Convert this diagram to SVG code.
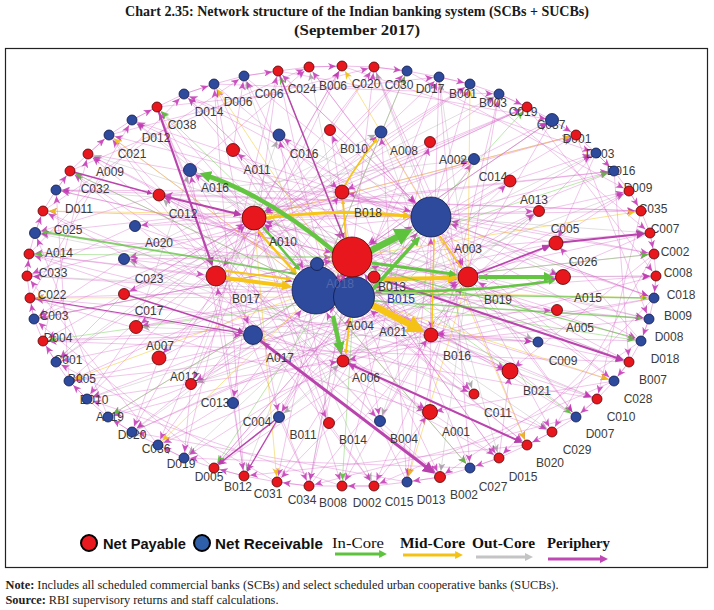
<svg xmlns="http://www.w3.org/2000/svg" width="714" height="610" viewBox="0 0 714 610">
<defs>
<style>
.lb{font-family:"Liberation Sans",Arial,sans-serif;font-size:12px;fill:#3b3b3b;text-anchor:middle}
.r{fill:#e8161d;stroke:#520606;stroke-width:.8}
.b{fill:#2d4a9d;stroke:#121a48;stroke-width:.8}
.ring{fill:none;stroke:#d35cc5;stroke-width:.8;stroke-opacity:.5}
.p,.pL,.pX,.pM{fill:none;stroke:#d35cc5;stroke-width:.7;stroke-opacity:.5}
.p{marker-end:url(#mp)}
.pL{marker-end:url(#mpL)}
.pX{marker-end:url(#mpX)}
.pM{marker-end:url(#mpM)}
.g{fill:none;stroke:#a9a9a9;stroke-width:.6;stroke-opacity:.6;marker-end:url(#mg)}
.gr{fill:none;stroke:#66cc44;stroke-width:.8;stroke-opacity:.55;marker-end:url(#mgr)}
.y{fill:none;stroke:#f2c51c;stroke-width:.8;stroke-opacity:.6;marker-end:url(#my)}
.tG{fill:none;stroke:#63c542;marker-end:url(#tg)}
.tY{fill:none;stroke:#f6c515;marker-end:url(#ty)}
.tP{fill:none;stroke:#b944ae;marker-end:url(#tp)}
.ttl{font-family:"Liberation Serif","Times New Roman",serif;font-weight:bold;font-size:14px;fill:#1a1a1a;text-anchor:middle}
.nt{font-family:"Liberation Serif","Times New Roman",serif;font-size:12px;fill:#222}
.lgs{font-family:"Liberation Sans",Arial,sans-serif;font-weight:bold;font-size:14px;fill:#111}
.lgr{font-family:"Liberation Serif","Times New Roman",serif;font-size:15px;fill:#111}
</style>
<marker id="mp" viewBox="0 0 8 7" refX="14" refY="3.5" markerWidth="8" markerHeight="7" markerUnits="userSpaceOnUse" orient="auto"><path d="M0,0L8,3.5L0,7L2.2,3.5z" fill="#c337b5" fill-opacity=".85"/></marker>
<marker id="mpL" viewBox="0 0 8 7" refX="29" refY="3.5" markerWidth="8" markerHeight="7" markerUnits="userSpaceOnUse" orient="auto"><path d="M0,0L8,3.5L0,7L2.2,3.5z" fill="#c337b5" fill-opacity=".85"/></marker>
<marker id="mpX" viewBox="0 0 8 7" refX="33" refY="3.5" markerWidth="8" markerHeight="7" markerUnits="userSpaceOnUse" orient="auto"><path d="M0,0L8,3.5L0,7L2.2,3.5z" fill="#c337b5" fill-opacity=".85"/></marker>
<marker id="mpM" viewBox="0 0 8 7" refX="20" refY="3.5" markerWidth="8" markerHeight="7" markerUnits="userSpaceOnUse" orient="auto"><path d="M0,0L8,3.5L0,7L2.2,3.5z" fill="#c337b5" fill-opacity=".85"/></marker>
<marker id="mg" viewBox="0 0 8 7" refX="14" refY="3.5" markerWidth="8" markerHeight="7" markerUnits="userSpaceOnUse" orient="auto"><path d="M0,0L8,3.5L0,7L2.2,3.5z" fill="#a0a0a0" fill-opacity=".85"/></marker>
<marker id="mgr" viewBox="0 0 8 7" refX="14" refY="3.5" markerWidth="8" markerHeight="7" markerUnits="userSpaceOnUse" orient="auto"><path d="M0,0L8,3.5L0,7L2.2,3.5z" fill="#58c038" fill-opacity=".9"/></marker>
<marker id="my" viewBox="0 0 8 7" refX="14" refY="3.5" markerWidth="8" markerHeight="7" markerUnits="userSpaceOnUse" orient="auto"><path d="M0,0L8,3.5L0,7L2.2,3.5z" fill="#f0c010" fill-opacity=".9"/></marker>
<marker id="tg" viewBox="0 0 10 10" refX="5" refY="5" markerWidth="2.6" markerHeight="2.6" orient="auto"><path d="M0,0L10,5L0,10z" fill="#5dc33d"/></marker>
<marker id="ty" viewBox="0 0 10 10" refX="5" refY="5" markerWidth="2.6" markerHeight="2.6" orient="auto"><path d="M0,0L10,5L0,10z" fill="#f4c214"/></marker>
<marker id="tp" viewBox="0 0 10 10" refX="5" refY="5" markerWidth="4" markerHeight="4" orient="auto"><path d="M0,0L10,5L0,10z" fill="#b63fab"/></marker>
<marker id="ta" viewBox="0 0 10 10" refX="5" refY="5" markerWidth="2.7" markerHeight="2.7" orient="auto"><path d="M0,0L10,5L0,10z" fill="#c4c4c4"/></marker>
<marker id="lp" viewBox="0 0 10 10" refX="5" refY="5" markerWidth="2.7" markerHeight="2.7" orient="auto"><path d="M0,0L10,5L0,10z" fill="#c048b4"/></marker>
</defs>
<rect x="0" y="0" width="714" height="610" fill="#ffffff"/>
<text class="ttl" x="357" y="16" textLength="464" lengthAdjust="spacingAndGlyphs">Chart 2.35: Network structure of the Indian banking system (SCBs + SUCBs)</text>
<text class="ttl" x="357" y="35" textLength="126" lengthAdjust="spacingAndGlyphs">(September 2017)</text>
<rect x="5.5" y="48.5" width="702" height="519" fill="none" stroke="#222" stroke-width="1.2"/>

<g id="connectors">
<path class="ring" d="M56 190L70 171L88 154L109 135L132 120L157 107L184 94L214 84L244 76L278 71L309 67L342 66L374 67L407 71L439 77L470 84L499 94L527 107L552 120L576 135L596 153L614 171L629 191L641 211L650 233L654 254L656 276L654 298L649 319L641 341L629 362L614 381L597 399L576 417L552 432L527 445L499 458L470 468L440 477L407 482L374 486L342 486L309 486L277 482L244 476L214 468L184 458L158 445L132 432L108 417L87 399L69 381L56 362L43 341L34 319L30 298L27 276L29 254L35 233L43 211Z"/>
<g id="c-outcore">
<path class="g" d="M431 217L56 190"/><path class="g" d="M468 277L88 154"/><path class="g" d="M254 218L132 120"/><path class="g" d="M352 257L184 94"/><path class="g" d="M316 290L244 76"/><path class="g" d="M354 297L309 67"/><path class="g" d="M431 217L374 67"/><path class="g" d="M468 277L439 77"/><path class="g" d="M254 218L499 94"/><path class="g" d="M352 257L552 120"/><path class="g" d="M316 290L596 153"/><path class="g" d="M354 297L629 191"/><path class="g" d="M431 217L650 233"/><path class="g" d="M468 277L656 276"/><path class="g" d="M254 218L649 319"/><path class="g" d="M352 257L629 362"/><path class="g" d="M316 290L597 399"/><path class="g" d="M354 297L552 432"/><path class="g" d="M431 217L499 458"/><path class="g" d="M468 277L440 477"/><path class="g" d="M254 218L374 486"/><path class="g" d="M352 257L309 486"/><path class="g" d="M316 290L244 476"/><path class="g" d="M354 297L184 458"/><path class="g" d="M431 217L132 432"/><path class="g" d="M468 277L87 399"/><path class="g" d="M254 218L56 362"/><path class="g" d="M352 257L34 319"/><path class="g" d="M316 290L27 276"/><path class="g" d="M354 297L35 233"/>
<path class="g" d="M279 135L563 277"/><path class="g" d="M190 170L538 342"/><path class="g" d="M381 132L474 394"/><path class="g" d="M474 159L380 421"/><path class="g" d="M539 211L279 417"/><path class="g" d="M563 277L191 384"/><path class="g" d="M538 342L136 327"/><path class="g" d="M474 394L124 259"/><path class="g" d="M380 421L159 195"/><path class="g" d="M279 417L343 361"/><path class="g" d="M191 384L279 135"/><path class="g" d="M136 327L190 170"/><path class="g" d="M124 259L381 132"/><path class="g" d="M159 195L474 159"/><path class="g" d="M343 361L539 211"/>
</g>
<g id="c-periphery">
<path class="p" d="M352 257L56 190"/><path class="p" d="M316 290L70 171"/><path class="p" d="M354 297L88 154"/><path class="p" d="M431 217L109 135"/><path class="p" d="M468 277L132 120"/><path class="p" d="M254 218L157 107"/><path class="p" d="M352 257L184 94"/><path class="p" d="M316 290L214 84"/><path class="p" d="M354 297L244 76"/><path class="p" d="M431 217L278 71"/><path class="p" d="M468 277L309 67"/><path class="p" d="M254 218L342 66"/><path class="p" d="M352 257L374 67"/><path class="p" d="M316 290L407 71"/><path class="p" d="M354 297L439 77"/><path class="p" d="M431 217L470 84"/><path class="p" d="M468 277L499 94"/><path class="p" d="M254 218L527 107"/><path class="p" d="M352 257L552 120"/><path class="p" d="M316 290L576 135"/><path class="p" d="M354 297L596 153"/><path class="p" d="M431 217L614 171"/><path class="p" d="M468 277L629 191"/><path class="p" d="M254 218L641 211"/><path class="p" d="M352 257L650 233"/><path class="p" d="M316 290L654 254"/><path class="p" d="M354 297L656 276"/><path class="p" d="M431 217L654 298"/><path class="p" d="M468 277L649 319"/><path class="p" d="M254 218L641 341"/><path class="p" d="M352 257L629 362"/><path class="p" d="M316 290L614 381"/><path class="p" d="M354 297L597 399"/><path class="p" d="M431 217L576 417"/><path class="p" d="M468 277L552 432"/><path class="p" d="M254 218L527 445"/><path class="p" d="M352 257L499 458"/><path class="p" d="M316 290L470 468"/><path class="p" d="M354 297L440 477"/><path class="p" d="M431 217L407 482"/><path class="p" d="M468 277L374 486"/><path class="p" d="M254 218L342 486"/><path class="p" d="M352 257L309 486"/><path class="p" d="M316 290L277 482"/><path class="p" d="M354 297L244 476"/><path class="p" d="M431 217L214 468"/><path class="p" d="M468 277L184 458"/><path class="p" d="M254 218L158 445"/><path class="p" d="M352 257L132 432"/><path class="p" d="M316 290L108 417"/><path class="p" d="M354 297L87 399"/><path class="p" d="M431 217L69 381"/><path class="p" d="M468 277L56 362"/><path class="p" d="M254 218L43 341"/><path class="p" d="M352 257L34 319"/><path class="p" d="M316 290L30 298"/><path class="p" d="M354 297L27 276"/><path class="p" d="M431 217L29 254"/><path class="p" d="M468 277L35 233"/><path class="p" d="M254 218L43 211"/>
<path class="p" d="M56 190L641 211"/><path class="p" d="M88 154L654 254"/><path class="p" d="M132 120L654 298"/><path class="p" d="M184 94L641 341"/><path class="p" d="M244 76L614 381"/><path class="p" d="M309 67L576 417"/><path class="p" d="M374 67L527 445"/><path class="p" d="M439 77L470 468"/><path class="p" d="M499 94L407 482"/><path class="p" d="M552 120L342 486"/><path class="p" d="M596 153L277 482"/><path class="p" d="M629 191L214 468"/><path class="p" d="M650 233L158 445"/><path class="p" d="M656 276L108 417"/><path class="p" d="M649 319L69 381"/><path class="p" d="M629 362L43 341"/><path class="p" d="M597 399L30 298"/><path class="p" d="M552 432L29 254"/><path class="p" d="M499 458L43 211"/><path class="p" d="M440 477L70 171"/><path class="p" d="M374 486L109 135"/><path class="p" d="M309 486L157 107"/><path class="p" d="M244 476L214 84"/><path class="p" d="M184 458L278 71"/><path class="p" d="M132 432L342 66"/><path class="p" d="M87 399L407 71"/><path class="p" d="M56 362L470 84"/><path class="p" d="M34 319L527 107"/><path class="p" d="M27 276L576 135"/><path class="p" d="M35 233L614 171"/>
<path class="p" d="M70 171L309 67"/><path class="p" d="M109 135L374 67"/><path class="p" d="M157 107L439 77"/><path class="p" d="M214 84L499 94"/><path class="p" d="M278 71L552 120"/><path class="p" d="M342 66L596 153"/><path class="p" d="M407 71L629 191"/><path class="p" d="M470 84L650 233"/><path class="p" d="M527 107L656 276"/><path class="p" d="M576 135L649 319"/><path class="p" d="M614 171L629 362"/><path class="p" d="M641 211L597 399"/><path class="p" d="M654 254L552 432"/><path class="p" d="M654 298L499 458"/><path class="p" d="M641 341L440 477"/><path class="p" d="M614 381L374 486"/><path class="p" d="M576 417L309 486"/><path class="p" d="M527 445L244 476"/><path class="p" d="M470 468L184 458"/><path class="p" d="M407 482L132 432"/><path class="p" d="M342 486L87 399"/><path class="p" d="M277 482L56 362"/><path class="p" d="M214 468L34 319"/><path class="p" d="M158 445L27 276"/><path class="p" d="M108 417L35 233"/><path class="p" d="M69 381L56 190"/><path class="p" d="M43 341L88 154"/><path class="p" d="M30 298L132 120"/><path class="p" d="M29 254L184 94"/><path class="p" d="M43 211L244 76"/>
<path class="p" d="M56 190L70 171"/><path class="p" d="M88 154L109 135"/><path class="p" d="M132 120L157 107"/><path class="p" d="M184 94L214 84"/><path class="p" d="M244 76L278 71"/><path class="p" d="M309 67L342 66"/><path class="p" d="M374 67L407 71"/><path class="p" d="M439 77L470 84"/><path class="p" d="M499 94L527 107"/><path class="p" d="M552 120L576 135"/><path class="p" d="M596 153L614 171"/><path class="p" d="M629 191L641 211"/><path class="p" d="M650 233L654 254"/><path class="p" d="M656 276L654 298"/><path class="p" d="M649 319L641 341"/><path class="p" d="M629 362L614 381"/><path class="p" d="M597 399L576 417"/><path class="p" d="M552 432L527 445"/><path class="p" d="M499 458L470 468"/><path class="p" d="M440 477L407 482"/><path class="p" d="M374 486L342 486"/><path class="p" d="M309 486L277 482"/><path class="p" d="M244 476L214 468"/><path class="p" d="M184 458L158 445"/><path class="p" d="M132 432L108 417"/><path class="p" d="M87 399L69 381"/><path class="p" d="M56 362L43 341"/><path class="p" d="M34 319L30 298"/><path class="p" d="M27 276L29 254"/><path class="p" d="M35 233L43 211"/>
<path class="p" d="M70 171L430 412"/><path class="p" d="M109 135L380 421"/><path class="p" d="M157 107L329 423"/><path class="p" d="M214 84L279 417"/><path class="p" d="M278 71L233 403"/><path class="p" d="M342 66L191 384"/><path class="p" d="M407 71L159 358"/><path class="p" d="M470 84L136 327"/><path class="p" d="M527 107L124 294"/><path class="p" d="M576 135L124 259"/><path class="p" d="M614 171L135 226"/><path class="p" d="M641 211L159 195"/><path class="p" d="M654 254L342 192"/><path class="p" d="M654 298L343 361"/><path class="p" d="M641 341L431 335"/><path class="p" d="M614 381L279 135"/><path class="p" d="M576 417L233 150"/><path class="p" d="M527 445L190 170"/><path class="p" d="M470 468L330 130"/><path class="p" d="M407 482L381 132"/><path class="p" d="M342 486L430 142"/><path class="p" d="M277 482L474 159"/><path class="p" d="M214 468L510 181"/><path class="p" d="M158 445L539 211"/><path class="p" d="M108 417L556 243"/><path class="p" d="M69 381L563 277"/><path class="p" d="M43 341L557 310"/><path class="p" d="M30 298L538 342"/><path class="p" d="M29 254L510 371"/><path class="p" d="M43 211L474 394"/>
<path class="p" d="M279 135L184 94"/><path class="p" d="M233 150L244 76"/><path class="p" d="M190 170L309 67"/><path class="p" d="M330 130L374 67"/><path class="p" d="M381 132L439 77"/><path class="p" d="M430 142L499 94"/><path class="p" d="M474 159L552 120"/><path class="p" d="M510 181L596 153"/><path class="p" d="M539 211L629 191"/><path class="p" d="M556 243L650 233"/><path class="p" d="M563 277L656 276"/><path class="p" d="M557 310L649 319"/><path class="p" d="M538 342L629 362"/><path class="p" d="M510 371L597 399"/><path class="p" d="M474 394L552 432"/><path class="p" d="M430 412L499 458"/><path class="p" d="M380 421L440 477"/><path class="p" d="M329 423L374 486"/><path class="p" d="M279 417L309 486"/><path class="p" d="M233 403L244 476"/><path class="p" d="M191 384L184 458"/><path class="p" d="M159 358L132 432"/><path class="p" d="M136 327L87 399"/><path class="p" d="M124 294L56 362"/><path class="p" d="M124 259L34 319"/><path class="p" d="M135 226L27 276"/><path class="p" d="M159 195L35 233"/><path class="p" d="M342 192L56 190"/><path class="p" d="M343 361L88 154"/><path class="p" d="M431 335L132 120"/>
<path class="pL" d="M279 135L352 257"/><path class="pX" d="M233 150L316 290"/><path class="pL" d="M190 170L354 297"/><path class="pL" d="M330 130L431 217"/><path class="pM" d="M381 132L468 277"/><path class="pM" d="M430 142L254 218"/><path class="pL" d="M474 159L352 257"/><path class="pX" d="M510 181L316 290"/><path class="pL" d="M539 211L354 297"/><path class="pL" d="M556 243L431 217"/><path class="pM" d="M563 277L468 277"/><path class="pM" d="M557 310L254 218"/><path class="pL" d="M538 342L352 257"/><path class="pX" d="M510 371L316 290"/><path class="pL" d="M474 394L354 297"/><path class="pL" d="M430 412L431 217"/><path class="pM" d="M380 421L468 277"/><path class="pM" d="M329 423L254 218"/><path class="pL" d="M279 417L352 257"/><path class="pX" d="M233 403L316 290"/><path class="pL" d="M191 384L354 297"/><path class="pL" d="M159 358L431 217"/><path class="pM" d="M136 327L468 277"/><path class="pM" d="M124 294L254 218"/><path class="pL" d="M124 259L352 257"/><path class="pX" d="M135 226L316 290"/><path class="pL" d="M159 195L354 297"/><path class="pL" d="M342 192L431 217"/><path class="pM" d="M343 361L468 277"/><path class="pM" d="M431 335L254 218"/>
<path class="pL" d="M56 190L352 257"/><path class="pX" d="M109 135L316 290"/><path class="pL" d="M184 94L354 297"/><path class="pL" d="M278 71L431 217"/><path class="pM" d="M374 67L468 277"/><path class="pM" d="M470 84L254 218"/><path class="pL" d="M552 120L352 257"/><path class="pX" d="M614 171L316 290"/><path class="pL" d="M650 233L354 297"/><path class="pL" d="M654 298L431 217"/><path class="pM" d="M629 362L468 277"/><path class="pM" d="M576 417L254 218"/><path class="pL" d="M499 458L352 257"/><path class="pX" d="M407 482L316 290"/><path class="pL" d="M309 486L354 297"/><path class="pL" d="M214 468L431 217"/><path class="pM" d="M132 432L468 277"/><path class="pM" d="M69 381L254 218"/><path class="pL" d="M34 319L352 257"/><path class="pX" d="M29 254L316 290"/>
<path class="pM" d="M43 341L253 335"/><path class="pM" d="M157 107L253 335"/><path class="pM" d="M440 477L253 335"/><path class="pM" d="M29 254L216 276"/><path class="pM" d="M374 67L216 276"/><path class="pM" d="M244 476L216 276"/><path class="p" d="M654 298L431 335"/><path class="p" d="M439 77L431 335"/><path class="p" d="M309 486L431 335"/><path class="p" d="M527 445L343 361"/><path class="p" d="M87 399L343 361"/><path class="p" d="M278 71L343 361"/><path class="p" d="M214 84L342 192"/><path class="p" d="M527 107L342 192"/><path class="p" d="M158 445L342 192"/><path class="p" d="M614 381L430 412"/><path class="p" d="M374 486L430 412"/><path class="p" d="M30 298L430 412"/><path class="p" d="M654 254L510 371"/><path class="p" d="M499 458L510 371"/><path class="p" d="M88 154L510 371"/><path class="p" d="M596 153L556 243"/><path class="p" d="M641 341L556 243"/><path class="p" d="M132 432L556 243"/>
<path class="p" d="M233 150L474 394"/><path class="p" d="M330 130L380 421"/><path class="p" d="M430 142L279 417"/><path class="p" d="M510 181L191 384"/><path class="p" d="M556 243L136 327"/><path class="p" d="M557 310L124 259"/><path class="p" d="M510 371L159 195"/><path class="p" d="M430 412L343 361"/><path class="p" d="M329 423L279 135"/><path class="p" d="M233 403L190 170"/><path class="p" d="M159 358L381 132"/><path class="p" d="M124 294L474 159"/><path class="p" d="M135 226L539 211"/><path class="p" d="M342 192L563 277"/><path class="p" d="M431 335L538 342"/>
</g>
<g id="c-incore-thin">
<path class="gr" d="M316 290L70 171"/><path class="gr" d="M354 297L157 107"/><path class="gr" d="M352 257L278 71"/><path class="gr" d="M316 290L407 71"/><path class="gr" d="M354 297L527 107"/><path class="gr" d="M352 257L614 171"/><path class="gr" d="M316 290L654 254"/><path class="gr" d="M354 297L641 341"/><path class="gr" d="M352 257L576 417"/><path class="gr" d="M316 290L470 468"/><path class="gr" d="M354 297L342 486"/><path class="gr" d="M352 257L214 468"/><path class="gr" d="M316 290L108 417"/><path class="gr" d="M354 297L43 341"/><path class="gr" d="M352 257L29 254"/>
</g>
<g id="c-midcore-thin">
<path class="y" d="M316 290L109 135"/><path class="y" d="M354 297L214 84"/><path class="y" d="M431 217L342 66"/><path class="y" d="M468 277L470 84"/><path class="y" d="M254 218L576 135"/><path class="y" d="M352 257L641 211"/><path class="y" d="M316 290L654 298"/><path class="y" d="M354 297L614 381"/><path class="y" d="M431 217L527 445"/><path class="y" d="M468 277L407 482"/><path class="y" d="M254 218L277 482"/><path class="y" d="M352 257L158 445"/><path class="y" d="M316 290L69 381"/><path class="y" d="M354 297L30 298"/><path class="y" d="M431 217L43 211"/>
</g>
<g id="c-thick">
<path class="tP" stroke-width="2.2" d="M157 107L211 262"/>
<path class="tP" stroke-width="3" d="M253 335L430 470"/>
<path class="tP" stroke-width="2.2" d="M556 243L641 234"/>
<path class="tP" stroke-width="1.8" d="M468 277L546 247"/>
<path class="tP" stroke-width="2" d="M374 277L620 359"/>
<path class="tP" stroke-width="2" d="M343 361L519 441"/>
<path class="tP" stroke-width="2" d="M159 195L238 214"/>
<path class="tP" stroke-width="1.5" d="M124 294L241 331"/>
<path class="tP" stroke-width="1.5" d="M278 71L343 236"/>
<path class="tP" stroke-width="1.5" d="M279 417L220 463"/>
<path class="tP" stroke-width="1.2" d="M279 417L248 470"/>
<path class="tP" stroke-width="1.2" d="M30 298L241 333"/>
<path class="tP" stroke-width="1.4" d="M70 171L150 193"/>
<path class="tY" stroke-width="2.5" d="M258 231Q280 256 295 272"/>
<path class="tY" stroke-width="4" d="M226 278L287 286"/>
<path class="tY" stroke-width="2" d="M226 271L289 279"/>
<path class="tY" stroke-width="3" d="M266 218Q340 208 407 216"/>
<path class="tY" stroke-width="4" d="M381 279L453 278"/>
<path class="tY" stroke-width="1.8" d="M345 185Q360 160 376 140"/>
<path class="tY" stroke-width="2" d="M350 318L346 352"/>
<path class="tY" stroke-width="1.3" d="M432 328L434 240"/>
<path class="tY" stroke-width="1.8" d="M346 238L343 202"/>
<path class="tY" stroke-width="1.5" d="M440 236L461 267"/>
<path class="tY" stroke-width="7" d="M372 305L417 328"/>
<path class="tG" stroke-width="1.8" stroke-opacity=".8" d="M296 274L44 232"/>
<path class="tG" stroke-width="1.5" stroke-opacity=".7" d="M340 293L645 298"/>
<path class="tG" stroke-width="1.4" stroke-opacity=".7" d="M374 301L640 318"/>
<path class="tG" stroke-width="1.2" stroke-opacity=".7" d="M370 268L632 337"/>
<path class="tG" stroke-width="4.5" d="M335 252Q268 196 205 175"/>
<path class="tG" stroke-width="2.5" d="M263 227L298 268"/>
<path class="tG" stroke-width="3" d="M372 263L453 274"/>
<path class="tG" stroke-width="4" d="M479 277L549 277"/>
<path class="tG" stroke-width="2.5" d="M376 291Q470 293 552 281"/>
<path class="tG" stroke-width="4.5" d="M333 316L340 348"/>
<path class="tG" stroke-width="3.5" d="M372 290L417 240"/>
<path class="tG" stroke-width="7" d="M370 251L405 233"/>
</g>
</g>

<g id="nodes">
<g id="n-C025"><text class="lb" x="68" y="234">C025</text><circle class="r" cx="43" cy="211" r="5"/></g>
<g id="n-A014"><text class="lb" x="59" y="257">A014</text><circle class="b" cx="35" cy="233" r="5.5"/></g>
<g id="n-C033"><text class="lb" x="53" y="277">C033</text><circle class="r" cx="29" cy="254" r="5"/></g>
<g id="n-C022"><text class="lb" x="52" y="299">C022</text><circle class="r" cx="27" cy="276" r="5"/></g>
<g id="n-C003"><text class="lb" x="54" y="320">C003</text><circle class="r" cx="30" cy="298" r="5"/></g>
<g id="n-D004"><text class="lb" x="58" y="342">D004</text><circle class="b" cx="34" cy="319" r="5"/></g>
<g id="n-C001"><text class="lb" x="68" y="364">C001</text><circle class="r" cx="43" cy="341" r="5"/></g>
<g id="n-B005"><text class="lb" x="82" y="383">B005</text><circle class="b" cx="56" cy="362" r="5"/></g>
<g id="n-D010"><text class="lb" x="94" y="404">D010</text><circle class="b" cx="69" cy="381" r="5"/></g>
<g id="n-A019"><text class="lb" x="110" y="421">A019</text><circle class="b" cx="87" cy="399" r="5"/></g>
<g id="n-D020"><text class="lb" x="132" y="439">D020</text><circle class="b" cx="108" cy="417" r="5"/></g>
<g id="n-C036"><text class="lb" x="156" y="453">C036</text><circle class="b" cx="132" cy="432" r="5"/></g>
<g id="n-D019"><text class="lb" x="181" y="468">D019</text><circle class="b" cx="158" cy="445" r="5"/></g>
<g id="n-D005"><text class="lb" x="209" y="481">D005</text><circle class="b" cx="184" cy="458" r="5"/></g>
<g id="n-B012"><text class="lb" x="238" y="491">B012</text><circle class="r" cx="214" cy="468" r="5"/></g>
<g id="n-C031"><text class="lb" x="268" y="498">C031</text><circle class="r" cx="244" cy="476" r="5"/></g>
<g id="n-C034"><text class="lb" x="302" y="504">C034</text><circle class="r" cx="277" cy="482" r="5"/></g>
<g id="n-B008"><text class="lb" x="333" y="507">B008</text><circle class="r" cx="309" cy="486" r="5"/></g>
<g id="n-D002"><text class="lb" x="367" y="507">D002</text><circle class="r" cx="342" cy="486" r="5"/></g>
<g id="n-C015"><text class="lb" x="399" y="506">C015</text><circle class="r" cx="374" cy="486" r="5"/></g>
<g id="n-D013"><text class="lb" x="431" y="504">D013</text><circle class="b" cx="407" cy="482" r="5"/></g>
<g id="n-B002"><text class="lb" x="464" y="499">B002</text><circle class="r" cx="440" cy="477" r="5.5"/></g>
<g id="n-C027"><text class="lb" x="493" y="491">C027</text><circle class="b" cx="470" cy="468" r="5"/></g>
<g id="n-D015"><text class="lb" x="523" y="481">D015</text><circle class="r" cx="499" cy="458" r="5"/></g>
<g id="n-B020"><text class="lb" x="550" y="467">B020</text><circle class="r" cx="527" cy="445" r="5"/></g>
<g id="n-C029"><text class="lb" x="577" y="454">C029</text><circle class="r" cx="552" cy="432" r="5"/></g>
<g id="n-D011"><text class="lb" x="79" y="213">D011</text><circle class="b" cx="56" cy="190" r="5"/></g>
<g id="n-C032"><text class="lb" x="95" y="193">C032</text><circle class="r" cx="70" cy="171" r="5"/></g>
<g id="n-A009"><text class="lb" x="110" y="176">A009</text><circle class="r" cx="88" cy="154" r="5"/></g>
<g id="n-C021"><text class="lb" x="132" y="158">C021</text><circle class="b" cx="109" cy="135" r="5"/></g>
<g id="n-D012"><text class="lb" x="156" y="142">D012</text><circle class="b" cx="132" cy="120" r="5"/></g>
<g id="n-C038"><text class="lb" x="182" y="129">C038</text><circle class="r" cx="157" cy="107" r="5"/></g>
<g id="n-D014"><text class="lb" x="209" y="116">D014</text><circle class="b" cx="184" cy="94" r="5"/></g>
<g id="n-D006"><text class="lb" x="238" y="106">D006</text><circle class="b" cx="214" cy="84" r="5"/></g>
<g id="n-C006"><text class="lb" x="269" y="98">C006</text><circle class="b" cx="244" cy="76" r="5"/></g>
<g id="n-C024"><text class="lb" x="302" y="93">C024</text><circle class="r" cx="278" cy="71" r="5"/></g>
<g id="n-B006"><text class="lb" x="333" y="90">B006</text><circle class="r" cx="309" cy="67" r="5"/></g>
<g id="n-C020"><text class="lb" x="366" y="88">C020</text><circle class="r" cx="342" cy="66" r="5"/></g>
<g id="n-C030"><text class="lb" x="399" y="89">C030</text><circle class="r" cx="374" cy="67" r="5"/></g>
<g id="n-D017"><text class="lb" x="430" y="93">D017</text><circle class="b" cx="407" cy="71" r="5"/></g>
<g id="n-B001"><text class="lb" x="463" y="98">B001</text><circle class="b" cx="439" cy="77" r="5"/></g>
<g id="n-B003"><text class="lb" x="493" y="107">B003</text><circle class="b" cx="470" cy="84" r="5"/></g>
<g id="n-C019"><text class="lb" x="523" y="116">C019</text><circle class="b" cx="499" cy="94" r="5"/></g>
<g id="n-C037"><text class="lb" x="551" y="129">C037</text><circle class="r" cx="527" cy="107" r="5"/></g>
<g id="n-D001"><text class="lb" x="577" y="143">D001</text><circle class="b" cx="552" cy="120" r="6.5"/></g>
<g id="n-D003"><text class="lb" x="600" y="158">D003</text><circle class="r" cx="576" cy="135" r="5"/></g>
<g id="n-D016"><text class="lb" x="621" y="175">D016</text><circle class="b" cx="596" cy="153" r="5"/></g>
<g id="n-D009"><text class="lb" x="638" y="192">D009</text><circle class="b" cx="614" cy="171" r="5"/></g>
<g id="n-C035"><text class="lb" x="653" y="213">C035</text><circle class="r" cx="629" cy="191" r="5"/></g>
<g id="n-C007"><text class="lb" x="665" y="233">C007</text><circle class="r" cx="641" cy="211" r="5"/></g>
<g id="n-C002"><text class="lb" x="675" y="256">C002</text><circle class="r" cx="650" cy="233" r="5"/></g>
<g id="n-C008"><text class="lb" x="678" y="277">C008</text><circle class="r" cx="654" cy="254" r="5"/></g>
<g id="n-C018"><text class="lb" x="681" y="299">C018</text><circle class="r" cx="656" cy="276" r="5"/></g>
<g id="n-B009"><text class="lb" x="678" y="320">B009</text><circle class="b" cx="654" cy="298" r="5"/></g>
<g id="n-D008"><text class="lb" x="669" y="341">D008</text><circle class="b" cx="649" cy="319" r="5"/></g>
<g id="n-D018"><text class="lb" x="665" y="363">D018</text><circle class="b" cx="641" cy="341" r="5"/></g>
<g id="n-B007"><text class="lb" x="653" y="384">B007</text><circle class="r" cx="629" cy="362" r="5"/></g>
<g id="n-C028"><text class="lb" x="638" y="403">C028</text><circle class="b" cx="614" cy="381" r="5"/></g>
<g id="n-C010"><text class="lb" x="621" y="421">C010</text><circle class="r" cx="597" cy="399" r="5"/></g>
<g id="n-D007"><text class="lb" x="600" y="438">D007</text><circle class="b" cx="576" cy="417" r="5"/></g>

<g id="n-C016"><text class="lb" x="304" y="158">C016</text><circle class="b" cx="279" cy="135" r="6"/></g>
<g id="n-A011"><text class="lb" x="257" y="174">A011</text><circle class="r" cx="233" cy="150" r="6.5"/></g>
<g id="n-A016"><text class="lb" x="215" y="192">A016</text><circle class="b" cx="190" cy="170" r="6.5"/></g>
<g id="n-C012"><text class="lb" x="183" y="218">C012</text><circle class="r" cx="159" cy="195" r="6"/></g>
<g id="n-A020"><text class="lb" x="159" y="247">A020</text><circle class="b" cx="135" cy="226" r="5.5"/></g>
<g id="n-C023"><text class="lb" x="149" y="283">C023</text><circle class="b" cx="124" cy="259" r="5.5"/></g>
<g id="n-C017"><text class="lb" x="149" y="315">C017</text><circle class="r" cx="124" cy="294" r="5.5"/></g>
<g id="n-A007"><text class="lb" x="160" y="350">A007</text><circle class="r" cx="136" cy="327" r="6.5"/></g>
<g id="n-A012"><text class="lb" x="184" y="381">A012</text><circle class="r" cx="159" cy="358" r="7"/></g>
<g id="n-C013"><text class="lb" x="215" y="407">C013</text><circle class="r" cx="191" cy="384" r="5.5"/></g>
<g id="n-C004"><text class="lb" x="257" y="426">C004</text><circle class="b" cx="233" cy="403" r="5.5"/></g>
<g id="n-B011"><text class="lb" x="303" y="439">B011</text><circle class="b" cx="279" cy="417" r="5.5"/></g>
<g id="n-B014"><text class="lb" x="353" y="444">B014</text><circle class="r" cx="329" cy="423" r="5.5"/></g>
<g id="n-B004"><text class="lb" x="404" y="443">B004</text><circle class="b" cx="380" cy="421" r="5.5"/></g>
<g id="n-A001"><text class="lb" x="456" y="436">A001</text><circle class="r" cx="430" cy="412" r="7.5"/></g>
<g id="n-C011"><text class="lb" x="498" y="417">C011</text><circle class="r" cx="474" cy="394" r="5"/></g>
<g id="n-B021"><text class="lb" x="537" y="395">B021</text><circle class="r" cx="510" cy="371" r="8"/></g>
<g id="n-C009"><text class="lb" x="563" y="365">C009</text><circle class="b" cx="538" cy="342" r="5"/></g>
<g id="n-A005"><text class="lb" x="580" y="332">A005</text><circle class="r" cx="557" cy="310" r="5.5"/></g>
<g id="n-A015"><text class="lb" x="588" y="302">A015</text><circle class="r" cx="563" cy="277" r="7.5"/></g>
<g id="n-B010"><text class="lb" x="354" y="153">B010</text><circle class="r" cx="330" cy="130" r="5.5"/></g>
<g id="n-A008"><text class="lb" x="404" y="155">A008</text><circle class="b" cx="381" cy="132" r="6"/></g>
<g id="n-A002"><text class="lb" x="453" y="164">A002</text><circle class="r" cx="430" cy="142" r="5.5"/></g>
<g id="n-C014"><text class="lb" x="493" y="181">C014</text><circle class="b" cx="474" cy="159" r="5.5"/></g>
<g id="n-A013"><text class="lb" x="534" y="204">A013</text><circle class="r" cx="510" cy="181" r="6"/></g>
<g id="n-C005"><text class="lb" x="565" y="233">C005</text><circle class="r" cx="539" cy="211" r="5.5"/></g>
<g id="n-C026"><text class="lb" x="583" y="266">C026</text><circle class="r" cx="556" cy="243" r="7"/></g>
<g id="n-B018"><text class="lb" x="368" y="217">B018</text><circle class="r" cx="342" cy="192" r="7"/></g>
<g id="n-A010"><text class="lb" x="283" y="246">A010</text><circle class="r" cx="254" cy="218" r="12"/></g>
<g id="n-B017"><text class="lb" x="246" y="303">B017</text><circle class="r" cx="216" cy="276" r="10"/></g>
<g id="n-A017"><text class="lb" x="280" y="362">A017</text><circle class="b" cx="253" cy="335" r="9.5"/></g>
<g id="n-A006"><text class="lb" x="366" y="382">A006</text><circle class="r" cx="343" cy="361" r="6"/></g>
<g id="n-B016"><text class="lb" x="457" y="360">B016</text><circle class="r" cx="431" cy="335" r="7"/></g>
<g id="n-B019"><text class="lb" x="498" y="304">B019</text><circle class="r" cx="468" cy="277" r="10"/></g>
<g id="n-A003"><text class="lb" x="468" y="253">A003</text><circle class="b" cx="431" cy="217" r="20"/></g>
<g id="n-A004"><text class="lb" x="360" y="330">A004</text><circle class="b" cx="316" cy="290" r="24"/></g>
<g id="n-A021"><text class="lb" x="393" y="336">A021</text><circle class="b" cx="354" cy="297" r="20.5"/></g>
<g id="n-B013"><text class="lb" x="392" y="291">B013</text><circle class="r" cx="352" cy="257" r="20"/></g>
<g id="n-A018"><text class="lb" x="340" y="288" style="fill:#5566aa">A018</text><circle class="b" cx="317" cy="264" r="6.5"/></g>
<g id="n-B015"><text class="lb" x="401" y="303" style="fill:#2b3a9e">B015</text><circle class="r" cx="374" cy="277" r="6"/></g>
</g>

<g id="legend">
<circle cx="89" cy="543" r="8" fill="#e8191f" stroke="#000" stroke-width="2"/>
<text class="lgs" x="103" y="548.5" textLength="83" lengthAdjust="spacingAndGlyphs">Net Payable</text>
<circle cx="202" cy="543" r="8" fill="#2f5fa8" stroke="#000" stroke-width="2"/>
<text class="lgs" x="215" y="548.5" textLength="108" lengthAdjust="spacingAndGlyphs">Net Receivable</text>
<text class="lgr" x="332" y="548" textLength="52" lengthAdjust="spacingAndGlyphs">In-Core</text>
<path d="M335 554L383 554" stroke="#5dc33d" stroke-width="3" marker-end="url(#tg)"/>
<text class="lgr" x="400" y="548" font-weight="bold" textLength="65" lengthAdjust="spacingAndGlyphs">Mid-Core</text>
<path d="M403 555L459 555" stroke="#f4c214" stroke-width="3" marker-end="url(#ty)"/>
<text class="lgr" x="472" y="548" font-weight="bold" textLength="63" lengthAdjust="spacingAndGlyphs">Out-Core</text>
<path d="M476 557L529 557" stroke="#c4c4c4" stroke-width="3" marker-end="url(#ta)"/>
<text class="lgr" x="547" y="548" font-weight="bold" textLength="63" lengthAdjust="spacingAndGlyphs">Periphery</text>
<path d="M548 559L604 559" stroke="#c048b4" stroke-width="3" marker-end="url(#lp)"/>
</g>

<text class="nt" x="5.5" y="589" textLength="553" lengthAdjust="spacingAndGlyphs"><tspan font-weight="bold">Note:</tspan> Includes all scheduled commercial banks (SCBs) and select scheduled urban cooperative banks (SUCBs).</text>
<text class="nt" x="5.5" y="604" textLength="273" lengthAdjust="spacingAndGlyphs"><tspan font-weight="bold">Source:</tspan> RBI supervisory returns and staff calculations.</text>
</svg>
